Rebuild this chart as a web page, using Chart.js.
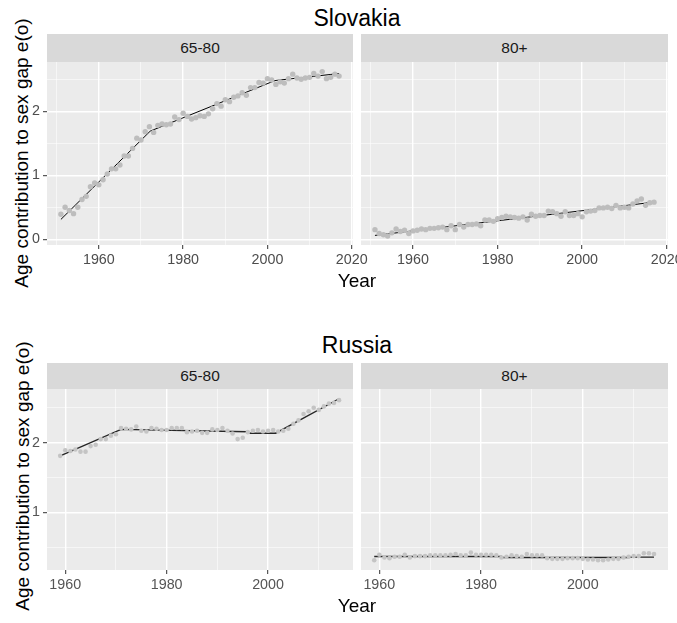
<!DOCTYPE html>
<html>
<head>
<meta charset="utf-8">
<script src="https://cdn.jsdelivr.net/npm/chart.js@4.4.1/dist/chart.umd.min.js"></script>
<style>
  body { margin: 0; width: 677px; height: 623px; overflow: hidden; position: relative; background: #fff;
         font-family: "Liberation Sans", Arial, sans-serif; }
  .box { position: absolute; }
  .title { position: absolute; left: 207px; width: 300px; text-align: center; font-size: 23px; line-height: 23px; color: #000; }
  .strip { position: absolute; background: #d9d9d9; color: #1a1a1a; font-size: 15.5px; text-align: center; z-index: 2; }
  .xlab { position: absolute; left: 307px; width: 100px; text-align: center; font-size: 19px; line-height: 19px; color: #000; }
  .ylab { position: absolute; font-size: 19px; line-height: 19px; color: #000; white-space: nowrap;
          transform: translate(-50%, -50%) rotate(-90deg); }
</style>
</head>
<body>

<div class="title" style="top:7px">Slovakia</div>
<div class="strip" style="left:47px;top:34px;width:306px;height:28px;line-height:28px">65-80</div>
<div class="strip" style="left:361px;top:34px;width:307px;height:28px;line-height:28px">80+</div>
<div class="ylab" style="left:21px;top:153px">Age contribution to sex gap e(o)</div>
<div class="box" style="left:0;top:50px"><canvas id="skYoung" width="378" height="225"></canvas></div>
<div class="box" style="left:353px;top:50px"><canvas id="skOld" width="340" height="225"></canvas></div>
<div class="xlab" style="top:271px">Year</div>

<div class="title" style="top:334px">Russia</div>
<div class="strip" style="left:47px;top:363px;width:306px;height:26px;line-height:26px">65-80</div>
<div class="strip" style="left:361px;top:363px;width:307px;height:26px;line-height:26px">80+</div>
<div class="ylab" style="left:22px;top:476px">Age contribution to sex gap e(o)</div>
<div class="box" style="left:0;top:377px"><canvas id="ruYoung" width="378" height="223"></canvas></div>
<div class="box" style="left:353px;top:377px"><canvas id="ruOld" width="340" height="223"></canvas></div>
<div class="xlab" style="top:596px">Year</div>

<script>
// Slovakia data
const skYears = [1951,1952,1953,1954,1955,1956,1957,1958,1959,1960,1961,1962,1963,1964,1965,1966,1967,1968,1969,1970,
  1971,1972,1973,1974,1975,1976,1977,1978,1979,1980,1981,1982,1983,1984,1985,1986,1987,1988,1989,1990,
  1991,1992,1993,1994,1995,1996,1997,1998,1999,2000,2001,2002,2003,2004,2005,2006,2007,2008,2009,2010,
  2011,2012,2013,2014,2015,2016,2017];
const skAge6580 = [0.39,0.50,0.45,0.40,0.50,0.62,0.67,0.82,0.88,0.85,0.93,1.02,1.10,1.10,1.16,1.30,1.30,1.42,1.58,1.55,
  1.68,1.76,1.67,1.78,1.80,1.79,1.80,1.91,1.87,1.97,1.92,1.88,1.90,1.93,1.92,1.96,2.04,2.12,2.08,2.18,
  2.15,2.22,2.24,2.29,2.25,2.37,2.37,2.45,2.44,2.51,2.49,2.42,2.46,2.44,2.51,2.58,2.52,2.50,2.52,2.53,
  2.59,2.55,2.62,2.51,2.53,2.58,2.55];
const skAge80 = [0.15,0.09,0.07,0.05,0.10,0.16,0.12,0.14,0.09,0.13,0.14,0.16,0.15,0.17,0.17,0.18,0.19,0.15,0.21,0.15,
  0.23,0.19,0.23,0.23,0.24,0.21,0.30,0.30,0.28,0.32,0.34,0.36,0.35,0.34,0.33,0.35,0.30,0.39,0.36,0.37,
  0.37,0.44,0.43,0.40,0.36,0.43,0.37,0.37,0.40,0.35,0.43,0.44,0.45,0.49,0.49,0.50,0.48,0.53,0.49,0.50,
  0.49,0.55,0.60,0.63,0.53,0.57,0.58];
// segmented fits
const skFit6580X = [1951, 1972.2, 2001.8, 2017];
const skFit6580Y = [0.31, 1.69, 2.48, 2.59];
const skFit80X = [1951, 2017];
const skFit80Y = [0.06, 0.58];

// Russia data
const ruYears = [1959,1960,1961,1962,1963,1964,1965,1966,1967,1968,1969,1970,1971,1972,1973,1974,1975,1976,1977,1978,
  1979,1980,1981,1982,1983,1984,1985,1986,1987,1988,1989,1990,1991,1992,1993,1994,1995,1996,1997,1998,
  1999,2000,2001,2002,2003,2004,2005,2006,2007,2008,2009,2010,2011,2012,2013,2014];
const ruAge6580 = [1.81,1.89,1.88,1.90,1.87,1.87,1.95,1.97,2.05,2.05,2.10,2.12,2.21,2.20,2.19,2.23,2.17,2.16,2.21,2.20,
  2.18,2.18,2.21,2.21,2.21,2.15,2.16,2.17,2.14,2.14,2.19,2.18,2.21,2.17,2.13,2.05,2.07,2.15,2.17,2.18,
  2.16,2.17,2.18,2.16,2.17,2.20,2.27,2.32,2.41,2.45,2.50,2.47,2.52,2.56,2.57,2.61];
const ruAge80 = [0.31,0.39,0.35,0.34,0.36,0.36,0.39,0.35,0.37,0.37,0.37,0.38,0.38,0.38,0.38,0.39,0.40,0.38,0.38,0.42,
  0.39,0.39,0.39,0.39,0.38,0.35,0.36,0.38,0.37,0.36,0.40,0.38,0.38,0.38,0.34,0.33,0.33,0.33,0.34,0.34,
  0.34,0.33,0.32,0.32,0.31,0.31,0.32,0.33,0.33,0.35,0.36,0.37,0.37,0.41,0.41,0.40];
const ruFit6580X = [1959, 1971, 1996, 1996.5, 2001.5, 2014];
const ruFit6580Y = [1.81, 2.19, 2.155, 2.135, 2.135, 2.63];
const ruFit80X = [1959, 1984, 1984, 2009, 2009, 2014];
const ruFit80Y = [0.365, 0.365, 0.35, 0.35, 0.355, 0.355];

// axis breaks
const yBreaks = [0, 0.5, 1, 1.5, 2, 2.5];
const yLabelled = [0, 1, 2];
const xBreaks = [1950, 1960, 1970, 1980, 1990, 2000, 2010, 2020];
const xLabelled = [1960, 1980, 2000, 2020];

const panelBg = {
  id: 'panelBg',
  beforeDraw(chart) {
    const a = chart.chartArea, ctx = chart.ctx;
    ctx.save();
    ctx.fillStyle = '#ebebeb';
    ctx.fillRect(a.left, a.top, a.right - a.left, a.bottom - a.top);
    ctx.restore();
  }
};

function pts(xs, ys) {
  return xs.map((x, i) => ({ x: x, y: ys[i] }));
}

function gridOpts(majors) {
  return {
    color: ctx => (ctx.tick && majors.includes(ctx.tick.value)) ? '#ffffff' : 'rgba(255,255,255,0.8)',
    lineWidth: ctx => (ctx.tick && majors.includes(ctx.tick.value)) ? 1.4 : 0.7,
    tickColor: ctx => (ctx.tick && majors.includes(ctx.tick.value)) ? '#333333' : 'rgba(0,0,0,0)',
    tickLength: 4,
    tickWidth: 1
  };
}

function makePanel(id, cfg) {
  const tickFont = { family: '"Liberation Sans", Arial, sans-serif', size: 14.3 };
  new Chart(document.getElementById(id), {
    type: 'scatter',
    data: {
      datasets: [
        {
          data: pts(cfg.years, cfg.values),
          backgroundColor: cfg.pointColor,
          borderWidth: 0,
          pointRadius: cfg.pointRadius
        },
        {
          data: pts(cfg.fitX, cfg.fitY),
          showLine: true,
          borderColor: cfg.lineColor,
          borderWidth: cfg.lineWidth,
          pointRadius: 0,
          tension: 0
        }
      ]
    },
    options: {
      responsive: false,
      animation: false,
      events: [],
      layout: { padding: cfg.padding },
      plugins: { legend: { display: false }, tooltip: { enabled: false } },
      scales: {
        x: {
          type: 'linear',
          min: cfg.xMin, max: cfg.xMax,
          afterBuildTicks: s => { s.ticks = xBreaks.filter(v => v >= cfg.xMin && v <= cfg.xMax).map(v => ({ value: v })); },
          afterFit: s => { s.height = 30; },
          border: { display: false },
          grid: gridOpts(xLabelled),
          ticks: {
            autoSkip: false, maxRotation: 0, padding: 2,
            color: cfg.tickColor, font: tickFont,
            callback: v => xLabelled.includes(v) ? String(v) : ''
          }
        },
        y: {
          type: 'linear',
          min: cfg.yMin, max: cfg.yMax,
          afterBuildTicks: s => { s.ticks = yBreaks.filter(v => v >= cfg.yMin && v <= cfg.yMax).map(v => ({ value: v })); },
          afterFit: s => { s.width = cfg.showY ? 47 : 0; },
          border: { display: false },
          grid: Object.assign(gridOpts(yLabelled), { drawTicks: cfg.showY }),
          ticks: {
            display: cfg.showY, padding: 3,
            color: cfg.tickColor, font: tickFont,
            callback: v => yLabelled.includes(v) ? String(v) : ''
          }
        }
      }
    },
    plugins: [panelBg]
  });
}

const skBase = { xMin: 1947.7, xMax: 2020.3, yMin: -0.09, yMax: 2.77, pointColor: '#bdbdbd', pointRadius: 2.7,
  lineColor: '#000000', lineWidth: 1, tickColor: '#4d4d4d' };
const ruBase = { xMin: 1956.4, xMax: 2016.75, yMin: 0.17, yMax: 2.77, pointColor: '#c4c4c4', pointRadius: 2.3,
  lineColor: '#262626', lineWidth: 1.4, tickColor: '#555555' };

makePanel('skYoung', Object.assign({}, skBase, { years: skYears, values: skAge6580, fitX: skFit6580X, fitY: skFit6580Y,
  showY: true, padding: { left: 0, top: 12, right: 25, bottom: 0 } }));
makePanel('skOld', Object.assign({}, skBase, { years: skYears, values: skAge80, fitX: skFit80X, fitY: skFit80Y,
  showY: false, padding: { left: 8, top: 12, right: 25, bottom: 0 } }));
makePanel('ruYoung', Object.assign({}, ruBase, { years: ruYears, values: ruAge6580, fitX: ruFit6580X, fitY: ruFit6580Y,
  showY: true, padding: { left: 0, top: 12, right: 25, bottom: 0 } }));
makePanel('ruOld', Object.assign({}, ruBase, { years: ruYears, values: ruAge80, fitX: ruFit80X, fitY: ruFit80Y,
  showY: false, padding: { left: 8, top: 12, right: 25, bottom: 0 } }));
</script>
</body>
</html>
